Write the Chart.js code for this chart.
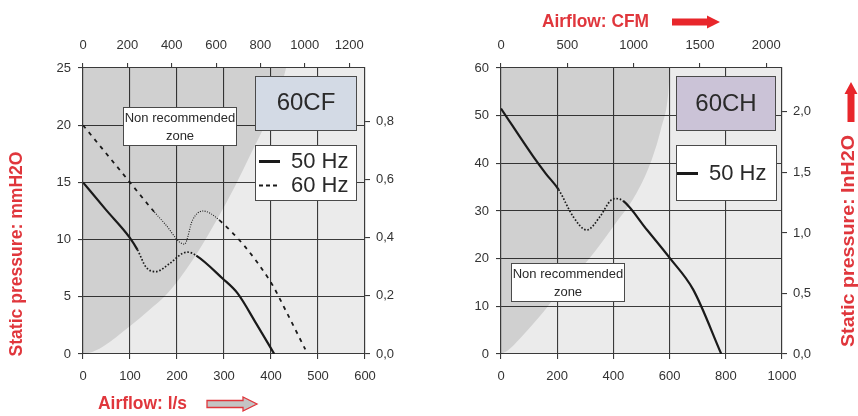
<!DOCTYPE html>
<html>
<head>
<meta charset="utf-8">
<script src="https://cdn.jsdelivr.net/npm/chart.js@4.4.0/dist/chart.umd.min.js"></script>
<style>
  html, body { margin: 0; padding: 0; background: #fff; }
  body { width: 858px; height: 416px; position: relative; overflow: hidden; }
  canvas { position: absolute; top: 0; }
  #cf { left: 0; }
  #ch { left: 430px; }
</style>
</head>
<body>
<canvas id="cf" width="430" height="416"></canvas>
<canvas id="ch" width="428" height="416"></canvas>
<script>
// unit conversions used for the secondary axes
const LS_TO_CFM = 2.1189;
const MM_TO_INCH = 1 / 25.4;

// ---- 60CF (left panel), airflow in l/s, pressure in mmH2O ----
const cf50X = [0, 49, 99, 116, 134, 155, 184, 212, 223, 241, 297, 329, 368, 407];
const cf50Y = [15, 12.6, 10.2, 9.1, 7.6, 7.2, 7.9, 8.8, 8.9, 8.6, 6.6, 5.3, 2.7, 0];
const cf50Dotted = [116, 241];

const cf60X = [0, 100, 152, 177, 205, 216, 233, 255, 290, 397, 435, 473];
const cf60Y = [20, 15, 12.4, 11.25, 9.8, 9.6, 11.7, 12.5, 11.7, 6.45, 3.5, 0.4];
const cf60Dotted = [152, 290];

const cfZoneX = [0, 14, 42, 99, 141, 180, 233, 276, 315, 350, 386, 418, 432];
const cfZoneY = [0, 0.1, 0.64, 2.4, 3.84, 5.3, 8.2, 11.1, 14.0, 16.9, 19.9, 22.8, 25];

const cfTopTicks = [0, 200, 400, 600, 800, 1000, 1200];     // CFM
const cfRightTicks = [0, 0.2, 0.4, 0.6, 0.8];               // inH2O

// ---- 60CH (right panel) ----
const ch50X = [0, 115, 160, 205, 257, 305, 352, 390, 410, 435, 520, 601, 684, 784];
const ch50Y = [51.5, 41.4, 37.8, 34.5, 28.8, 26.0, 28.8, 32.2, 32.6, 32.1, 26.0, 20.1, 13.5, 0];
const ch50Dotted = [205, 435];

const chZoneX = [0, 25, 67, 138, 204, 310, 399, 482, 536, 571, 595, 601];
const chZoneY = [0, 0.8, 3.2, 7.9, 12.8, 19.7, 26.7, 33.7, 40.7, 47.6, 54.6, 60];

const chTopTicks = [0, 500, 1000, 1500, 2000];
const chRightTicks = [0, 0.5, 1.0, 1.5, 2.0];

const GRID = '#3a3a3a';
const TICK_FONT = { family: '"Liberation Sans", Arial, sans-serif', size: 13 };
const RED = '#e0363c';
const ARROW_RED = '#e8262b';

function pts(xs, ys) {
    return xs.map((x, i) => ({ x: x, y: ys[i] }));
}

function inRange(ctx, range) {
    return ctx.p0.parsed.x >= range[0] && ctx.p1.parsed.x <= range[1];
}

function curve(xs, ys, range, mainDash, mainWidth, dotDash, dotWidth) {
    return {
        data: pts(xs, ys),
        borderColor: '#1a1a1a',
        borderWidth: mainWidth,
        borderDash: mainDash,
        pointRadius: 0,
        fill: false,
        cubicInterpolationMode: 'monotone',
        segment: {
            borderDash: ctx => inRange(ctx, range) ? dotDash : mainDash,
            borderWidth: ctx => inRange(ctx, range) ? dotWidth : mainWidth
        },
        order: 1
    };
}

function zone(xs, ys) {
    return {
        data: pts(xs, ys),
        borderWidth: 0,
        pointRadius: 0,
        backgroundColor: 'rgba(0,0,0,0.115)',
        fill: 'end',
        cubicInterpolationMode: 'monotone',
        order: 5
    };
}

function fmtComma(v) {
    return v.toFixed(1).replace('.', ',');
}

function fixedTicks(list) {
    return s => { s.ticks = list.map(v => ({ value: v })); };
}

function axes(o) {
    const tick = { color: '#333', font: TICK_FONT, autoSkip: false, maxRotation: 0, callback: v => String(v) };
    return {
        x: {
            type: 'linear', position: 'bottom', min: 0, max: o.xMax,
            ticks: Object.assign({}, tick, { stepSize: o.xStep, padding: 10 }),
            grid: { color: GRID, lineWidth: 1.1, tickLength: 5 },
            border: { color: GRID, width: 1.1 },
            afterFit: s => { s.height = 62; }
        },
        xTop: {
            type: 'linear', position: 'top', min: 0, max: o.xMax * LS_TO_CFM,
            ticks: Object.assign({}, tick, { padding: 10 }),
            afterBuildTicks: fixedTicks(o.topTicks),
            grid: { drawOnChartArea: false, color: GRID, lineWidth: 1.1, tickLength: 5 },
            border: { color: GRID, width: 1.1 },
            afterFit: s => { s.height = 68; }
        },
        y: {
            type: 'linear', position: 'left', min: 0, max: o.yMax,
            ticks: Object.assign({}, tick, { stepSize: o.yStep, padding: 7 }),
            grid: { color: GRID, lineWidth: 1.1, tickLength: 5 },
            border: { color: GRID, width: 1.1 },
            afterFit: s => { s.width = o.leftW; }
        },
        yRight: {
            type: 'linear', position: 'right', min: 0, max: o.yMax * MM_TO_INCH,
            ticks: Object.assign({}, tick, { padding: 6, callback: v => fmtComma(v) }),
            afterBuildTicks: fixedTicks(o.rightTicks),
            grid: { drawOnChartArea: false, color: GRID, lineWidth: 1.1, tickLength: 5 },
            border: { color: GRID, width: 1.1 },
            afterFit: s => { s.width = o.rightW; }
        }
    };
}

// --- drawing helpers for the boxes, titles and arrows ---
function box(ctx, x, y, w, h, fill) {
    ctx.fillStyle = fill;
    ctx.fillRect(x, y, w, h);
    ctx.strokeStyle = '#4a4a4a';
    ctx.lineWidth = 1;
    ctx.strokeRect(Math.round(x) + 0.5, Math.round(y) + 0.5, Math.round(w) - 1, Math.round(h) - 1);
}

function fitText(ctx, text, cx, cy, width, size, angle, color) {
    ctx.save();
    ctx.translate(cx, cy);
    ctx.rotate(angle);
    ctx.font = 'bold ' + size + 'px "Liberation Sans", Arial, sans-serif';
    const w = ctx.measureText(text).width;
    ctx.scale(width / w, 1);
    ctx.fillStyle = color;
    ctx.textAlign = 'center';
    ctx.textBaseline = 'middle';
    ctx.fillText(text, 0, 0);
    ctx.restore();
}

function arrow(ctx, x0, y0, len, angle, shaft, head, headLen, fill, stroke) {
    ctx.save();
    ctx.translate(x0, y0);
    ctx.rotate(angle);
    ctx.beginPath();
    ctx.moveTo(0, -shaft);
    ctx.lineTo(len - headLen, -shaft);
    ctx.lineTo(len - headLen, -head);
    ctx.lineTo(len, 0);
    ctx.lineTo(len - headLen, head);
    ctx.lineTo(len - headLen, shaft);
    ctx.lineTo(0, shaft);
    ctx.closePath();
    ctx.fillStyle = fill;
    ctx.fill();
    if (stroke) {
        ctx.strokeStyle = stroke;
        ctx.lineWidth = 1.3;
        ctx.stroke();
    }
    ctx.restore();
}

function label(ctx, text, x, y, size, align) {
    ctx.font = size + 'px "Liberation Sans", Arial, sans-serif';
    ctx.fillStyle = '#2a2a2a';
    ctx.textAlign = align || 'center';
    ctx.textBaseline = 'middle';
    ctx.fillText(text, x, y);
}

function legendLine(ctx, x, y, dash, width) {
    ctx.save();
    ctx.strokeStyle = '#1a1a1a';
    ctx.lineWidth = width;
    ctx.setLineDash(dash);
    ctx.beginPath();
    ctx.moveTo(x, y);
    ctx.lineTo(x + 21, y);
    ctx.stroke();
    ctx.restore();
}

function zoneNote(ctx, x, y) {
    box(ctx, x, y, 114, 39, '#ffffff');
    label(ctx, 'Non recommended', x + 57, y + 11, 13);
    label(ctx, 'zone', x + 57, y + 29, 13);
}

const background = {
    id: 'plotBackground',
    beforeDraw(chart) {
        const a = chart.chartArea;
        const ctx = chart.ctx;
        ctx.save();
        ctx.fillStyle = '#ebebeb';
        ctx.fillRect(a.left, a.top, a.right - a.left, a.bottom - a.top);
        ctx.restore();
    }
};

function baseOptions(scales) {
    return {
        responsive: false,
        devicePixelRatio: 1,
        animation: false,
        layout: { padding: 0 },
        plugins: { legend: { display: false }, tooltip: { enabled: false }, title: { display: false } },
        scales: scales
    };
}

// left panel: 60CF
new Chart(document.getElementById('cf'), {
    type: 'line',
    data: {
        datasets: [
            curve(cf50X, cf50Y, cf50Dotted, [], 2.2, [1.6, 1.8], 1.7),
            curve(cf60X, cf60Y, cf60Dotted, [4, 5], 1.8, [1, 1.4], 1.1),
            zone(cfZoneX, cfZoneY)
        ]
    },
    options: baseOptions(axes({ xMax: 600, xStep: 100, topTicks: cfTopTicks, yMax: 25, yStep: 5, rightTicks: cfRightTicks, leftW: 83, rightW: 65 })),
    plugins: [background, {
        id: 'cfDecor',
        afterDraw(chart) {
            const ctx = chart.ctx;
            const a = chart.chartArea;
            ctx.save();
            box(ctx, a.left + 172, a.top + 8, 102, 55, '#d3dae5');
            label(ctx, '60CF', a.left + 223, a.top + 35, 24);
            box(ctx, a.left + 172, a.top + 77, 102, 56, '#ffffff');
            legendLine(ctx, a.left + 176, a.top + 93.5, [], 3);
            label(ctx, '50 Hz', a.left + 208, a.top + 94, 22, 'left');
            legendLine(ctx, a.left + 176, a.top + 117.5, [4, 3], 2);
            label(ctx, '60 Hz', a.left + 208, a.top + 118, 22, 'left');
            zoneNote(ctx, a.left + 40, a.top + 39);

            fitText(ctx, 'Static pressure: mmH2O', 17, 254, 205, 19, -Math.PI / 2, RED);
            fitText(ctx, 'Airflow: l/s', 142.5, 404, 89, 18, 0, RED);
            arrow(ctx, 207, 404, 50, 0, 3.5, 7, 14, '#c4c4c4', RED);
            ctx.restore();
        }
    }]
});

// right panel: 60CH
new Chart(document.getElementById('ch'), {
    type: 'line',
    data: {
        datasets: [
            curve(ch50X, ch50Y, ch50Dotted, [], 2.2, [1.6, 1.8], 1.7),
            zone(chZoneX, chZoneY)
        ]
    },
    options: baseOptions(axes({ xMax: 1000, xStep: 200, topTicks: chTopTicks, yMax: 60, yStep: 10, rightTicks: chRightTicks, leftW: 71, rightW: 76 })),
    plugins: [background, {
        id: 'chDecor',
        afterDraw(chart) {
            const ctx = chart.ctx;
            const a = chart.chartArea;
            ctx.save();
            box(ctx, a.left + 175, a.top + 8, 100, 55, '#cbc3d7');
            label(ctx, '60CH', a.left + 225, a.top + 36, 24);
            box(ctx, a.left + 175, a.top + 77, 101, 56, '#ffffff');
            legendLine(ctx, a.left + 176, a.top + 105.5, [], 3);
            label(ctx, '50 Hz', a.left + 208, a.top + 106, 22, 'left');
            zoneNote(ctx, a.left + 10, a.top + 195);

            fitText(ctx, 'Airflow: CFM', 165.5, 22, 107, 19, 0, RED);
            arrow(ctx, 242, 22, 48, 0, 3.5, 6.5, 13, ARROW_RED);
            fitText(ctx, 'Static pressure: InH2O', 419, 241, 212, 19, -Math.PI / 2, RED);
            arrow(ctx, 421, 122, 40, -Math.PI / 2, 3.5, 6.5, 12, ARROW_RED);
            ctx.restore();
        }
    }]
});
</script>
</body>
</html>
